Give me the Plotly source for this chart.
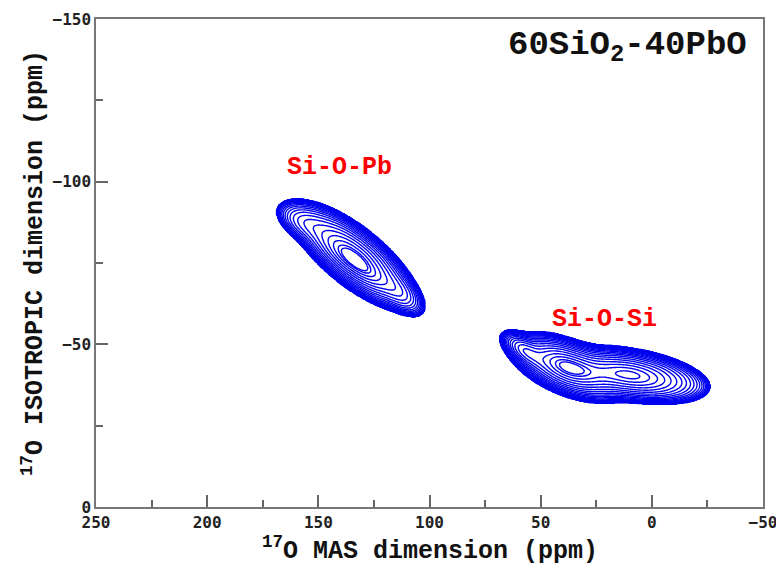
import numpy as np
import plotly.graph_objects as go

# ---- data ----
# peak components: centre (MAS ppm, isotropic ppm), width along MAS, width across the
# ridge, ridge slope (ppm iso per ppm MAS, sign for a ridge rising to the left), amplitude
comp_x = [134.0, 156.0, 113.5, 133.0, 38.0, 10.0, 57.0]
comp_y = [-77.0, -87.3, -66.0, -74.6, -43.0, -40.6, -48.0]
comp_sx = [10.5, 6.0, 5.0, 7.0, 9.5, 13.0, 4.5]
comp_sy = [4.0, 2.6, 2.6, 2.0, 3.3, 3.0, 2.0]
comp_slope = [0.44, 0.25, 0.40, 0.44, 0.22, 0.10, 0.35]
comp_amp = [1.0, 0.15, 0.15, 0.25, 1.0, 0.95, 0.35]

peak_labels = ["Si-O-Pb", "Si-O-Si"]
label_x = [140.3, 21.5]
label_y = [-104.5, -57.5]

x_ticks = [250, 200, 150, 100, 50, 0, -50]
y_ticks = [0, -50, -100, -150]

n_levels = 25
base_level = 0.02      # lowest contour relative to maximum
level_power = 3.0      # contour spacing profile

# ---- spectrum grid ----
xg = np.arange(-45.0, 185.0, 0.5)
yg = np.arange(-105.0, -20.0, 0.25)
X, Y = np.meshgrid(xg, yg)
I = np.zeros_like(X)
for x0, y0, sx, sy, s, amp in zip(comp_x, comp_y, comp_sx, comp_sy, comp_slope, comp_amp):
    dx = X - x0
    dy = Y - y0 + s * dx
    I += amp * np.exp(-0.5 * (dx / sx) ** 2 - 0.5 * (dy / sy) ** 2)

Ic = np.clip(I, 1e-12, 1.0)
rho = np.sqrt(np.clip(np.log(Ic) / np.log(base_level), 0, 1.5))
Z = np.where(rho < 1, (1 - np.clip(rho, 0, 1)) ** (1.0 / level_power), -0.1)

mono = "Liberation Mono, Courier New, monospace"

fig = go.Figure()
fig.add_trace(go.Contour(
    x=xg, y=yg, z=Z,
    contours=dict(start=1.0 / n_levels * 0.5, end=1.0, size=1.0 / n_levels, coloring="lines"),
    colorscale=[[0, "#0000f0"], [1, "#0000f0"]],
    line=dict(width=1.4, smoothing=1),
    showscale=False, hoverinfo="skip",
))

axis_common = dict(
    showgrid=False, zeroline=False, ticks="inside", ticklen=12, tickwidth=1.5,
    tickcolor="#666", linecolor="#777", linewidth=1.5, mirror=True,
    tickfont=dict(family="DejaVu Sans Mono", size=16, color="#222", weight="bold"),
    showline=True, automargin=False,
)
fig.update_xaxes(range=[250, -50], tickvals=x_ticks, ticktext=[str(v).replace("-", "−") for v in x_ticks],
                 minor=dict(dtick=25, ticklen=7, tickwidth=1.5, tickcolor="#666", ticks="inside"),
                 **axis_common)
fig.update_yaxes(range=[0, -150], tickvals=y_ticks, ticktext=[str(v).replace("-", "−") for v in y_ticks],
                 minor=dict(dtick=25, ticklen=7, tickwidth=1.5, tickcolor="#666", ticks="inside"),
                 **axis_common)

annotations = []
for t, lx, ly in zip(peak_labels, label_x, label_y):
    annotations.append(dict(x=lx, y=ly, xref="x", yref="y", text="<b>%s</b>" % t, showarrow=False,
                            font=dict(family=mono, size=25, color="#ff0000")))
annotations.append(dict(x=0.979, y=0.99, xref="paper", yref="paper", xanchor="right", yanchor="top",
                        text="<b>60SiO<sub>2</sub>-40PbO</b>", showarrow=False,
                        font=dict(family=mono, size=34, color="#111")))
annotations.append(dict(x=0.5, y=-0.086, xref="paper", yref="paper", xanchor="center", yanchor="middle",
                        text="<b><sup>17</sup>O MAS dimension (ppm)</b>", showarrow=False,
                        font=dict(family=mono, size=25, color="#111")))
annotations.append(dict(x=-0.093, y=0.5, xref="paper", yref="paper", xanchor="center", yanchor="middle",
                        textangle=-90, text="<b><sup>17</sup>O ISOTROPIC dimension (ppm)</b>", showarrow=False,
                        font=dict(family=mono, size=25, color="#111")))

fig.update_layout(
    width=776, height=556,
    margin=dict(l=88, r=21, t=11, b=57),
    paper_bgcolor="white", plot_bgcolor="white",
    annotations=annotations, showlegend=False,
)
fig.write_html("out.html")
